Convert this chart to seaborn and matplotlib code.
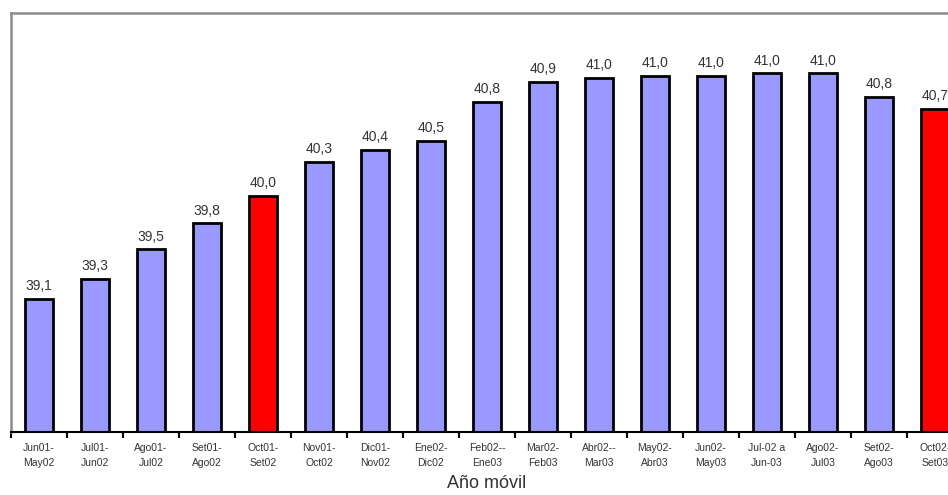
import numpy as np
import matplotlib
matplotlib.use("Agg")
import matplotlib.pyplot as plt
import seaborn as sns

categories = ["Jun01-\nMay02", "Jul01-\nJun02", "Ago01-\nJul02", "Set01-\nAgo02", "Oct01-\nSet02",
              "Nov01-\nOct02", "Dic01-\nNov02", "Ene02-\nDic02", "Feb02--\nEne03", "Mar02-\nFeb03",
              "Abr02--\nMar03", "May02-\nAbr03", "Jun02-\nMay03", "Jul-02 a\nJun-03", "Ago02-\nJul03",
              "Set02-\nAgo03", "Oct02-\nSet03"]
values = [39.13, 39.30, 39.55, 39.77, 40.00, 40.29, 40.39, 40.47, 40.80, 40.97,
          41.00, 41.02, 41.02, 41.04, 41.04, 40.84, 40.74]
value_labels = ["39,1", "39,3", "39,5", "39,8", "40,0", "40,3", "40,4", "40,5", "40,8", "40,9",
                "41,0", "41,0", "41,0", "41,0", "41,0", "40,8", "40,7"]
highlight = [False, False, False, False, True, False, False, False, False, False,
             False, False, False, False, False, False, True]

sns.set_theme(style="white")
plt.rcParams['font.family'] = ['Liberation Sans', 'DejaVu Sans']

W, H = 948, 495
fig = plt.figure(figsize=(W / 100, H / 100), dpi=100)
left, right, top, bottom = 11, 963, 13, 432
ax = fig.add_axes([left / W, (H - bottom) / H, (right - left) / W, (bottom - top) / H])

colors = ["#FF0000" if h else "#9999FF" for h in highlight]
sns.barplot(x=categories, y=values, hue=categories, palette=colors, width=0.5,
            edgecolor="black", linewidth=2, legend=False, ax=ax, saturation=1)

ax.set_xlim(-0.5, len(categories) - 0.5)
ax.set_ylim(38.0, 38.0 + (bottom - top) / 118.0)

for i, (v, lab) in enumerate(zip(values, value_labels)):
    ax.annotate(lab, (i, v), xytext=(0, 4), textcoords="offset points",
                ha="center", va="bottom", fontsize=10, color="#333333")

ax.set_yticks([])
ax.set_xticks(range(len(categories)))
ax.set_xticklabels(categories, fontsize=7.5, color="#333333", linespacing=1.6)
ax.set_xticks(np.arange(-0.5, len(categories), 1), minor=True)
ax.tick_params(axis="x", which="major", length=0, pad=8)
ax.tick_params(axis="x", which="minor", length=4, width=1.5, color="black", direction="out", bottom=True)
ax.set_xlabel("Año móvil", fontsize=13, color="#333333", labelpad=5)
ax.set_ylabel("")

for s in ["top", "left"]:
    ax.spines[s].set_color("#8c8c8c")
    ax.spines[s].set_linewidth(1.8)
ax.spines["right"].set_visible(False)
ax.spines["bottom"].set_color("black")
ax.spines["bottom"].set_linewidth(1.5)

fig.savefig("out.png", dpi=100)
